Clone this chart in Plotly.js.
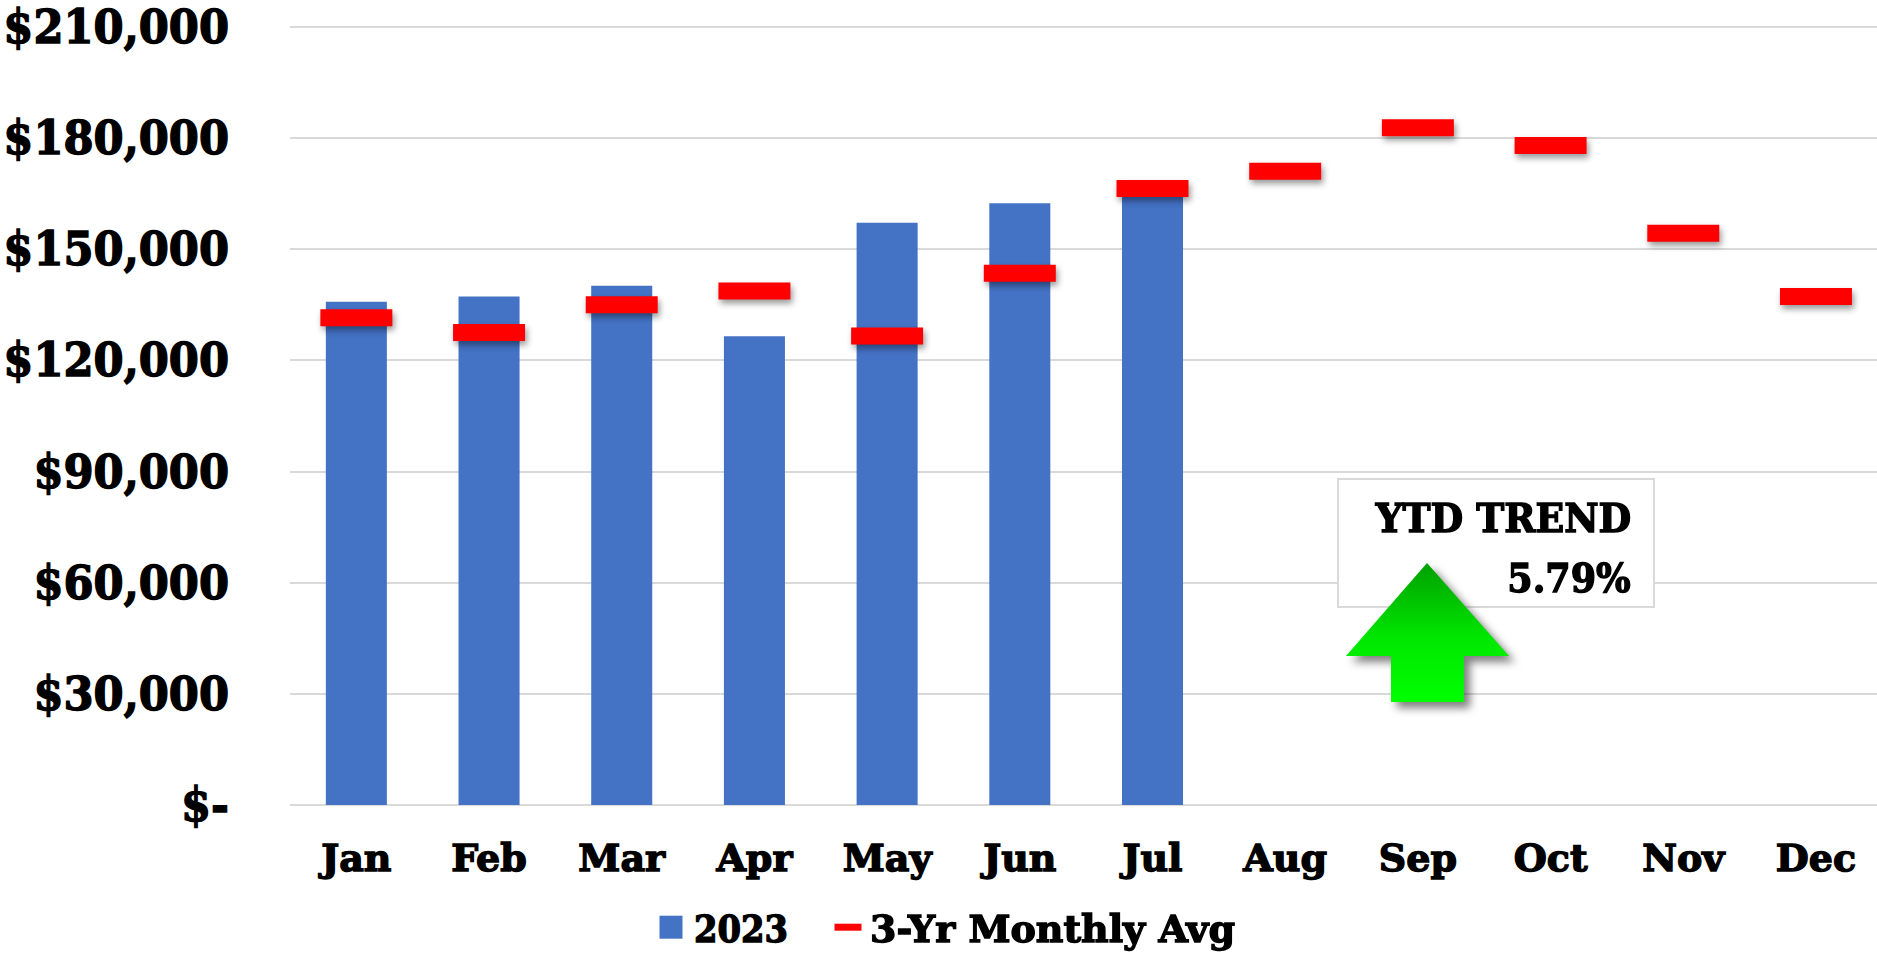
<!DOCTYPE html>
<html>
<head>
<meta charset="utf-8">
<script src="https://cdn.plot.ly/plotly-3.0.1.min.js"></script>
<style>
html,body{margin:0;padding:0;background:#fff;overflow:hidden}
#chart{width:1877px;height:956px}
.main-svg text{stroke:#000;stroke-width:1.4px}
</style>
</head>
<body>
<div id="chart"></div>
<script>
const months = ['Jan','Feb','Mar','Apr','May','Jun','Jul','Aug','Sep','Oct','Nov','Dec'];
const values2023 = [135800,137200,140100,126500,157100,162400,164700,null,null,null,null,null];
const avg3yr = [131500,127500,135000,138700,126600,143500,166400,171000,182800,178000,154300,137200];
const yTicks = [0,30000,60000,90000,120000,150000,180000,210000];
const yTickLabels = ['$-','$30,000','$60,000','$90,000','$120,000','$150,000','$180,000','$210,000'];
const FONT = '"DejaVu Serif", serif';
const W = 1877, H = 956;
const L = 290, T = 25, B = 151;
const PW = W - L, PH = H - T - B, BASE = H - B;
const fx = v => (v - L) / PW;
const fy = v => (BASE - v) / PH;

const data = [
  {type:'bar', name:'2023', x:months, y:values2023, width:0.46,
   marker:{color:'#4472C4'}, hoverinfo:'x+y'},
  {type:'scatter', mode:'markers', name:'3-Yr Monthly Avg', x:months, y:avg3yr,
   marker:{symbol:'line-ew', size:51.4, color:'#FF0000', line:{color:'#FF0000', width:17}}, hoverinfo:'x+y'}
];
const layout = {
  width:W, height:H,
  paper_bgcolor:'#fff', plot_bgcolor:'#fff',
  margin:{l:L, r:0, t:T, b:B},
  font:{family:FONT, color:'#000', weight:700},
  xaxis:{type:'category', range:[-0.5,11.46], tickvals:months, ticktext:months, ticks:'', showgrid:false,
    showline:false, zeroline:false, tickangle:0, ticklabelstandoff:27, ticklabeloverflow:'allow',
    tickfont:{family:FONT, size:38, color:'#000', weight:700}, fixedrange:true},
  yaxis:{range:[0,210500], tickvals:yTicks, ticktext:yTickLabels, ticks:'',
    gridcolor:'#D9D9D9', gridwidth:2, zeroline:true, zerolinecolor:'#D9D9D9', zerolinewidth:2,
    showline:false, ticklabelstandoff:60, ticklabeloverflow:'allow',
    tickfont:{family:FONT, size:46, color:'#000', weight:700}, fixedrange:true},
  showlegend:true,
  legend:{orientation:'h', xref:'container', yref:'container', x:0.3, xanchor:'left', y:0.0, yanchor:'bottom',
    font:{family:FONT, size:38, color:'#000', weight:700}, traceorder:'normal', itemwidth:30,
    itemclick:false, itemdoubleclick:false},
  shapes:[
    {type:'rect', xref:'paper', yref:'paper', layer:'above',
     x0:fx(1338), x1:fx(1654), y0:fy(607), y1:fy(479),
     fillcolor:'#fff', line:{color:'#D9D9D9', width:2}},
    {type:'path', xref:'paper', yref:'paper', layer:'above',
     path:[[1427,563],[1509,656],[1464,656],[1464,702],[1391,702],[1391,656],[1346,656]]
       .map((p,i)=>(i?'L':'M')+fx(p[0])+','+fy(p[1])).join(' ')+' Z',
     fillcolor:'#00E000', line:{width:0}}
  ],
  annotations:[
    {xref:'paper', yref:'paper', x:fx(1637.5), xanchor:'right', y:fy(518), yanchor:'middle',
     text:'YTD TREND', showarrow:false, font:{family:FONT, size:39, color:'#000', weight:700}},
    {xref:'paper', yref:'paper', x:fx(1637), xanchor:'right', y:fy(578), yanchor:'middle',
     text:'5.79%', showarrow:false, font:{family:FONT, size:39, color:'#000', weight:700}}
  ]
};

function squeeze(el, factor){
  const n = el.getComputedTextLength();
  el.setAttribute('textLength', (n*factor).toFixed(1));
  el.setAttribute('lengthAdjust','spacingAndGlyphs');
}
Plotly.newPlot('chart', data, layout, {displayModeBar:false, responsive:false}).then(gd => {
  const svg = gd.querySelector('svg.main-svg');
  const ns = 'http://www.w3.org/2000/svg';
  const defs = svg.querySelector('defs') || svg.insertBefore(document.createElementNS(ns,'defs'), svg.firstChild);
  const g = document.createElementNS(ns,'linearGradient');
  g.setAttribute('id','arrowGrad'); g.setAttribute('x1','0'); g.setAttribute('x2','0'); g.setAttribute('y1','0'); g.setAttribute('y2','1');
  [['0','#00A000'],['0.55','#00E800'],['1','#00FF00']].forEach(([o,c])=>{
    const s = document.createElementNS(ns,'stop'); s.setAttribute('offset',o); s.setAttribute('stop-color',c); g.appendChild(s);
  });
  defs.appendChild(g);
  const shapePaths = gd.querySelectorAll('.shapelayer path');
  const arrow = shapePaths[shapePaths.length-1];
  if (arrow) {
    arrow.style.fill = 'url(#arrowGrad)';
    arrow.style.filter = 'drop-shadow(6px 6px 4px rgba(0,0,0,0.5))';
  }
  gd.querySelectorAll('.scatterlayer .points').forEach(p => {
    p.style.filter = 'drop-shadow(2px 4px 3px rgba(0,0,0,0.4))';
  });
  gd.querySelectorAll('.ytick text').forEach(t => squeeze(t, 0.94));
  const ann = gd.querySelectorAll('.annotation-text');
  if (ann[0]) squeeze(ann[0], 0.965);
  if (ann[1]) squeeze(ann[1], 0.935);
  // legend entries: place swatch / text as in the reference
  const traces = gd.querySelectorAll('.legend .traces');
  const slots = [{sw:671, tx:694, f:0.89}, {sw:848, tx:870, f:1.0}];
  traces.forEach((tr,i) => {
    const s = slots[i];
    const txt = tr.querySelector('.legendtext');
    const pts = tr.querySelector('.legendpoints');
    squeeze(txt, s.f);
    const p = tr.querySelector('.legendpoints path');
    if (p) {
      if (i === 0) p.setAttribute('d','M11.5,11.5H-11.5V-11.5H11.5Z');
      else { p.setAttribute('d','M13.5,0H-13.5'); p.style.strokeWidth = '7px'; }
    }
    const m = /translate\(([-\d.]+)[, ]+([-\d.]+)\)/.exec(tr.getAttribute('transform'));
    const r = pts.getBoundingClientRect();
    const dx = s.sw - (r.left + r.right)/2;
    tr.setAttribute('transform','translate('+(parseFloat(m[1])+dx)+','+m[2]+')');
    const tr2 = txt.getBoundingClientRect();
    txt.setAttribute('x', parseFloat(txt.getAttribute('x')||0) + (s.tx - tr2.left));
  });
  const leg = gd.querySelector('.legend');
  const lm = /translate\(([-\d.]+)[, ]+([-\d.]+)\)/.exec(leg.getAttribute('transform'));
  leg.setAttribute('transform','translate('+lm[1]+','+(parseFloat(lm[2])+3)+')');
  leg.querySelectorAll('[clip-path]').forEach(c => c.removeAttribute('clip-path'));
  leg.style.overflow = 'visible';
});
</script>
</body>
</html>
